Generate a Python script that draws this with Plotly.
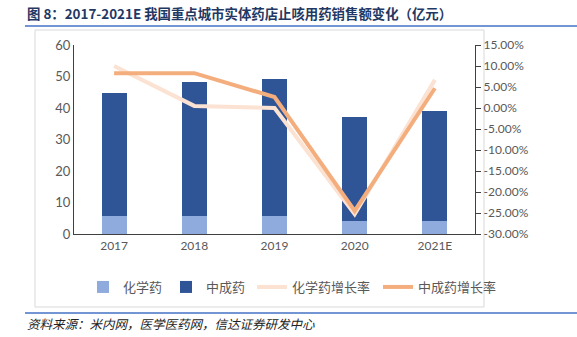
import plotly.graph_objects as go

categories = ["2017", "2018", "2019", "2020", "2021E"]
chem = [5.8, 5.8, 5.8, 4.0, 4.2]
tcm = [38.9, 42.3, 43.4, 33.3, 34.8]
chem_growth = [10.0, 0.5, 0.0, -25.3, 6.7]
tcm_growth = [8.3, 8.3, 2.6, -24.5, 4.7]
right_ticks = [15, 10, 5, 0, -5, -10, -15, -20, -25, -30]
right_labels = [f"{v:.2f}%" for v in right_ticks]

CJK = "Lato, 'Noto Sans CJK SC', sans-serif"
GRAY = "#595959"

T, B, L, R = 45, 234, 74, 475
H, W = B - T, R - L


def py(y):
    return (B - y) / H


def px(x):
    return (x - L) / W


fig = go.Figure()
fig.add_trace(go.Bar(x=categories, y=chem, name="化学药", marker=dict(color="#8FAADC", line=dict(width=0)),
                     width=0.31, legend="legend"))
fig.add_trace(go.Bar(x=categories, y=tcm, name="中成药", marker=dict(color="#2F5597", line=dict(width=0)),
                     width=0.31, legend="legend2"))
fig.add_trace(go.Scatter(x=categories, y=chem_growth, name="化学药增长率", mode="lines",
                         line=dict(color="#FBE2D2", width=4), yaxis="y2", legend="legend3"))
fig.add_trace(go.Scatter(x=categories, y=tcm_growth, name="中成药增长率", mode="lines",
                         line=dict(color="#F4AE7E", width=4), yaxis="y2", legend="legend4"))

legend_y = (337 - 287) / 337


def leg(xpix):
    return dict(orientation="h", xref="container", yref="container", x=xpix / 577, xanchor="left",
                y=legend_y, yanchor="middle", font=dict(size=13, color=GRAY), itemwidth=30,
                bgcolor="rgba(0,0,0,0)")


fig.update_layout(
    width=577, height=337,
    margin=dict(l=L, r=577 - R, t=T, b=337 - B),
    paper_bgcolor="white", plot_bgcolor="white",
    barmode="stack",
    font=dict(family=CJK, size=12, color=GRAY),
    showlegend=True,
    legend=leg(83), legend2=leg(166), legend3=leg(252), legend4=leg(378),
    xaxis=dict(showline=True, linecolor="#404040", linewidth=1.2, ticks="", showgrid=False,
               tickfont=dict(size=12, color=GRAY)),
    yaxis=dict(range=[0, 60], dtick=10, showline=True, linecolor="#404040", linewidth=1.2,
               showgrid=False, ticks="", zeroline=False, tickfont=dict(size=13, color=GRAY)),
    yaxis2=dict(overlaying="y", side="right", range=[-30, 15], tickvals=right_ticks,
                ticktext=right_labels, showline=True, linecolor="#404040", linewidth=1.2,
                ticks="outside", ticklen=5, tickcolor="#404040", showgrid=False, zeroline=False,
                tickfont=dict(size=12, color=GRAY)),
)

# frame and rules
fig.add_shape(type="rect", xref="paper", yref="paper", x0=px(35), x1=px(484), y0=py(307), y1=py(30),
              line=dict(color="#D9D9D9", width=1), layer="below")
fig.add_shape(type="line", xref="paper", yref="paper", x0=px(25), x1=px(577), y0=py(26), y1=py(26),
              line=dict(color="#4472C4", width=1.5))
fig.add_shape(type="line", xref="paper", yref="paper", x0=px(25), x1=px(577), y0=py(313), y1=py(313),
              line=dict(color="#4472C4", width=1.5))

fig.add_annotation(text="<b>图 8：2017-2021E 我国重点城市实体药店止咳用药销售额变化（亿元）</b>",
                   xref="paper", yref="paper", x=px(25), y=py(13), xanchor="left", yanchor="middle",
                   showarrow=False, font=dict(family="'Noto Sans CJK SC', sans-serif", size=13.4, color="#1F3864"))
fig.add_annotation(text="<i>资料来源：米内网，医学医药网，信达证券研发中心</i>",
                   xref="paper", yref="paper", x=px(25), y=py(323), xanchor="left", yanchor="middle",
                   showarrow=False, font=dict(family="'Noto Sans CJK SC', sans-serif", size=12.5, color="#222222"))

fig.write_html("out.html")
